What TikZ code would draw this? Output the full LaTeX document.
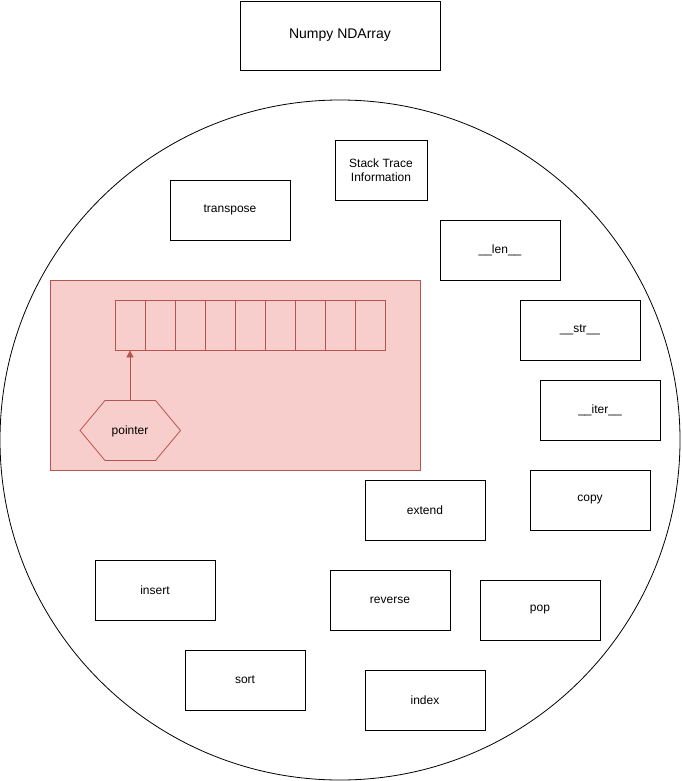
\documentclass[tikz,border=0pt]{standalone}
\usepackage{fontspec}
\setmainfont{Liberation Sans}
\usetikzlibrary{arrows.meta}
\definecolor{pinkfill}{HTML}{F8CECC}
\definecolor{pinkdraw}{HTML}{B85450}
\begin{document}
\begin{tikzpicture}[x=1pt,y=-1pt,
  box/.style={draw=black,fill=white,line width=0.8pt,minimum width=120pt,minimum height=60pt,inner sep=0pt,font=\fontsize{12}{14}\selectfont,align=center},
  cell/.style={draw=pinkdraw,line width=0.8pt,minimum width=30pt,minimum height=50pt,inner sep=0pt},
  ptr/.style={-{Triangle[length=7pt,width=7pt]},draw=pinkdraw,fill=pinkdraw,line width=0.8pt}]
\useasboundingbox (0,0) rectangle (681,781);
\node[box,minimum width=200pt,minimum height=69pt,font=\fontsize{14}{16}\selectfont] (title) at (340,35.5) {Numpy NDArray};
\node[draw=black,circle,minimum size=680pt,inner sep=0pt,line width=0.8pt] (circ) at (340,440) {};
\node[box,minimum width=92pt] (stack) at (381,170) {Stack Trace\\Information};
\node[box] (transpose) at (230,210) {transpose};
\node[box] (len) at (500,250) {\_\_len\_\_};
\node[box] (str) at (580,330) {\_\_str\_\_};
\node[box] (iter) at (600,410) {\_\_iter\_\_};
\node[draw=pinkdraw,fill=pinkfill,line width=0.8pt,minimum width=370pt,minimum height=190pt,inner sep=0pt] (mem) at (235,375) {};
\foreach \i in {0,...,8} {
  \node[cell] (c\i) at (130+30*\i,325) {};
}
\draw[draw=pinkdraw,line width=0.8pt] (80,430.5) -- (105,400.5) -- (155.5,400.5) -- (180.5,430.5) -- (155.5,460.5) -- (105,460.5) -- cycle;
\node[font=\fontsize{12}{14}\selectfont] (pointer) at (130,431) {pointer};
\coordinate (ptrtop) at (130,400.5);
\draw[ptr] (ptrtop) -- (c0.south);
\node[box] (extend) at (425,510) {extend};
\node[box] (copy) at (590,500) {copy};
\node[box] (insert) at (155,590) {insert};
\node[box] (reverse) at (390,600) {reverse};
\node[box] (pop) at (540,610) {pop};
\node[box] (sort) at (245,680) {sort};
\node[box] (index) at (425,700) {index};
\end{tikzpicture}
\end{document}
